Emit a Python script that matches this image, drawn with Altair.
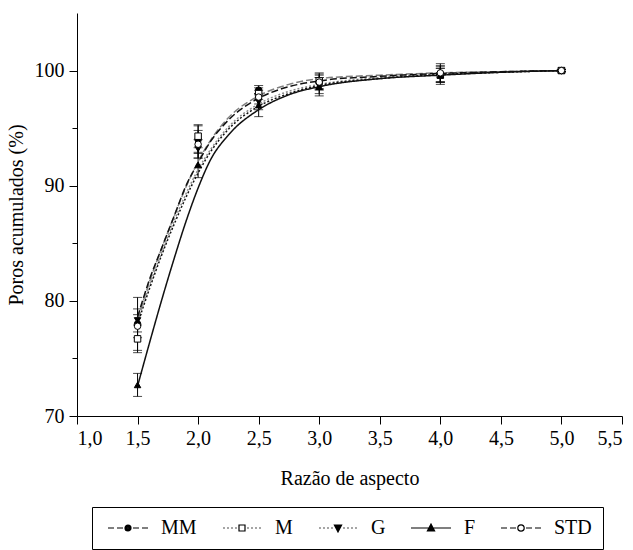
import altair as alt
import pandas as pd

# ---------------- data ----------------
series = ["MM", "M", "G", "F", "STD"]

x_pts = [1.5, 2.0, 2.5, 3.0, 4.0, 5.0]
mm_pts = [78.0, 94.0, 98.3, 99.0, 99.7, 100.0]
mm_err = [2.3, 1.2, 0.4, 0.6, 0.7, 0.1]
m_pts = [76.7, 94.3, 98.0, 99.1, 99.6, 100.0]
m_err = [1.2, 1.0, 0.5, 0.7, 0.8, 0.1]
g_pts = [78.3, 93.2, 97.3, 98.7, 99.6, 100.0]
g_err = [1.0, 0.8, 0.7, 0.7, 0.6, 0.1]
f_pts = [72.7, 91.8, 97.0, 98.6, 99.6, 100.0]
f_err = [1.0, 1.1, 1.0, 0.8, 0.6, 0.1]
std_pts = [77.8, 93.6, 97.7, 99.0, 99.8, 100.0]
std_err = [1.0, 1.2, 0.6, 0.7, 0.8, 0.1]

# fitted curves at these x positions
x_fit = [1.5, 1.6, 1.7, 1.8, 1.9, 2.0, 2.1, 2.25, 2.5, 2.75, 3.0, 3.5, 4.0, 4.5, 5.0]
mm_fit = [78.4, 81.7, 84.6, 87.3, 89.9, 92.1, 93.9, 95.9, 97.8, 98.8, 99.3, 99.6, 99.8, 99.9, 100.0]
m_fit = [78.2, 81.4, 84.2, 86.9, 89.3, 91.4, 93.1, 95.1, 97.1, 98.2, 98.8, 99.4, 99.7, 99.9, 100.0]
g_fit = [78.0, 81.1, 84.0, 86.6, 89.0, 91.1, 92.9, 94.9, 96.9, 98.0, 98.7, 99.3, 99.65, 99.85, 100.0]
f_fit = [72.6, 76.4, 80.1, 83.6, 86.9, 89.8, 92.2, 94.4, 96.6, 97.9, 98.6, 99.3, 99.6, 99.85, 100.0]
std_fit = [78.6, 81.9, 84.6, 87.3, 90.0, 92.0, 93.8, 95.7, 97.6, 98.6, 99.1, 99.5, 99.75, 99.9, 100.0]

x_ticks = [1.0, 1.25, 1.5, 1.75, 2.0, 2.25, 2.5, 2.75, 3.0, 3.25, 3.5, 3.75,
           4.0, 4.25, 4.5, 4.75, 5.0, 5.25, 5.5]
y_ticks = [70, 75, 80, 85, 90, 95, 100]

# ---------------- tables ----------------
pts_vals = {"MM": (mm_pts, mm_err), "M": (m_pts, m_err), "G": (g_pts, g_err),
            "F": (f_pts, f_err), "STD": (std_pts, std_err)}
fit_vals = {"MM": mm_fit, "M": m_fit, "G": g_fit, "F": f_fit, "STD": std_fit}

rows = []
for s in series:
    vals, errs = pts_vals[s]
    for x, v, e in zip(x_pts, vals, errs):
        rows.append({"series": s, "x": x, "v": v, "lo": v - e, "hi": v + e})
pts_df = pd.DataFrame(rows)

frows = []
for s in series:
    for x, v in zip(x_fit, fit_vals[s]):
        frows.append({"series": s, "x": x, "v": v})
fit_df = pd.DataFrame(frows)

# ---------------- styles ----------------
FONT = "'Liberation Serif', 'Times New Roman', 'DejaVu Serif', serif"
line_colors = ["#808080", "#8c8c8c", "#111111", "#111111", "#111111"]
dashes = [[7, 3], [2, 2], [2, 2], [1, 0], [7, 3]]
shapes = ["circle", "square", "triangle-down", "triangle-up", "circle"]
fills = ["black", "white", "black", "black", "white"]

# legend symbols: line + marker as custom paths (unit = 5 px, nominal box +-5 px)
U = 5.0
MC = 15.0      # marker centre (px from nominal centre)
LEFT = -5.0
RIGHT = 35.0


def p(v):
    return f"{v / U:.3f}"


def seg_list(dash, gap, first_gap, half):
    segs = []
    side = MC - half - LEFT
    pos = first_gap
    while pos < side - 0.2:
        end = min(pos + dash, side)
        segs.append((pos, end))
        pos = end + gap
    out = []
    for a, b in segs:
        out.append((MC - half - b, MC - half - a))
        out.append((MC + half + a, MC + half + b))
    return out


def lines_path(segs):
    return " ".join(f"M{p(a)},0 L{p(b)},0" for a, b in segs)


def circle(r, rev=False):
    sw = 0 if rev else 1
    return (f"M{p(MC + r)},0 A{p(r)},{p(r)} 0 1,{sw} {p(MC - r)},0 "
            f"A{p(r)},{p(r)} 0 1,{sw} {p(MC + r)},0 Z")


def filled_circle(r):
    parts = []
    rr = r
    while rr > 0.2:
        parts.append(circle(rr))
        rr -= 0.9
    return " ".join(parts)


def square(a, rev=False):
    if not rev:
        pts = [(MC - a, -a), (MC + a, -a), (MC + a, a), (MC - a, a)]
    else:
        pts = [(MC - a, -a), (MC - a, a), (MC + a, a), (MC + a, -a)]
    return "M" + " L".join(f"{p(x)},{p(y)}" for x, y in pts) + " Z"


def filled_tri(up):
    a, b, c = 3.6, 3.0, 3.9
    if up:
        base = [(-a, b), (a, b), (0.0, -c)]
    else:
        base = [(-a, -b), (a, -b), (0.0, c)]
    cy = sum(y for _, y in base) / 3.0
    parts = []
    for k in [1.0, 0.72, 0.45, 0.2]:
        pts = [(MC + x * k, cy + (y - cy) * k) for x, y in base]
        parts.append("M" + " L".join(f"{p(x)},{p(y)}" for x, y in pts) + " Z")
    return " ".join(parts)


leg_mm = lines_path(seg_list(6, 3, 1.5, 3.5)) + " " + filled_circle(3.0)
leg_m = lines_path(seg_list(1.4, 2.6, 1.8, 3.5)) + " " + square(3.0) + " " + square(3.0, True)
leg_g = lines_path(seg_list(1.4, 2.6, 1.8, 3.5)) + " " + filled_tri(False)
leg_f = f"M{p(LEFT)},0 L{p(RIGHT)},0 " + filled_tri(True)
leg_std = lines_path(seg_list(6, 3, 1.5, 3.5)) + " " + circle(3.2) + " " + circle(3.2, True)
legend_paths = [leg_mm, leg_m, leg_g, leg_f, leg_std]

# ---------------- encodings ----------------
x_enc = alt.X(
    "x:Q",
    scale=alt.Scale(domain=[1.0, 5.5], nice=False, zero=False),
    axis=alt.Axis(
        title="Razão de aspecto",
        values=x_ticks,
        labelExpr="datum.value % 0.5 == 0 ? replace(format(datum.value, '.1f'), '.', ',') : ''",
        tickSize=8,
        tickDash={"condition": {"test": "datum.value % 0.5 != 0", "value": [4, 30]}, "value": []},
        labelPadding=4,
        titlePadding=20,
    ),
)
y_scale = alt.Scale(domain=[70, 105], nice=False, zero=False)
y_axis = alt.Axis(
    title="Poros acumulados (%)",
    values=y_ticks,
    labelExpr="datum.value % 10 == 0 ? datum.label : ''",
    tickSize=8,
    tickDash={"condition": {"test": "datum.value % 10 != 0", "value": [5, 30]}, "value": []},
    labelPadding=5,
    titlePadding=8,
)

base_pts = alt.Chart(pts_df)

lines = alt.Chart(fit_df).mark_line(strokeWidth=1.5, interpolate="monotone").encode(
    x=x_enc,
    y=alt.Y("v:Q", scale=y_scale, axis=y_axis),
    color=alt.Color("series:N", scale=alt.Scale(domain=series, range=line_colors), legend=None),
    strokeDash=alt.StrokeDash("series:N", scale=alt.Scale(domain=series, range=dashes), legend=None),
)

rules = base_pts.mark_rule(color="black", strokeWidth=1).encode(
    x="x:Q", y="lo:Q", y2="hi:Q"
)
cap_lo = base_pts.mark_tick(orient="horizontal", color="black", thickness=1, size=9).encode(
    x="x:Q", y="lo:Q"
)
cap_hi = base_pts.mark_tick(orient="horizontal", color="black", thickness=1, size=9).encode(
    x="x:Q", y="hi:Q"
)

points = base_pts.mark_point(filled=True, size=42, stroke="black", strokeWidth=1, opacity=1).encode(
    x="x:Q",
    y="v:Q",
    shape=alt.Shape("series:N", scale=alt.Scale(domain=series, range=shapes), legend=None),
    fill=alt.Fill("series:N", scale=alt.Scale(domain=series, range=fills), legend=None),
)

# legend-only layer: no rows survive the filter, the legend comes from the scale domain
legend_layer = base_pts.transform_filter("datum.x < 0").mark_point(
    filled=False, color="black", strokeWidth=1.2, size=100
).encode(
    x="x:Q",
    y="v:Q",
    shape=alt.Shape(
        "series:N",
        scale=alt.Scale(domain=series, range=legend_paths),
        legend=alt.Legend(
            title=None,
            orient="none",
            legendX=15,
            legendY=494,
            direction="horizontal",
            symbolSize=100,
            symbolOpacity=1,
            symbolStrokeColor="black",
            symbolStrokeWidth=1.2,
            labelOffset=38,
            columnPadding=20,
            padding=11,
            strokeColor="black",
            labelFont=FONT,
            labelFontSize=20,
            labelColor="black",
        ),
    ),
)

chart = (
    alt.layer(rules, cap_lo, cap_hi, lines, points, legend_layer)
    .resolve_scale(shape="independent")
    .properties(
        width=545,
        height=403,
        padding={"left": 77, "top": 13, "right": 11, "bottom": 134},
        autosize=alt.AutoSizeParams(type="none"),
        background="white",
    )
    .configure_view(stroke=None)
    .configure_axis(
        grid=False,
        domainColor="black",
        domainWidth=1,
        tickColor="black",
        tickWidth=1,
        labelColor="black",
        titleColor="black",
        labelFont=FONT,
        titleFont=FONT,
        labelFontSize=20,
        titleFontSize=20,
        titleFontWeight="normal",
    )
)

chart.save("out.html", embed_options={"renderer": "svg", "actions": False})
